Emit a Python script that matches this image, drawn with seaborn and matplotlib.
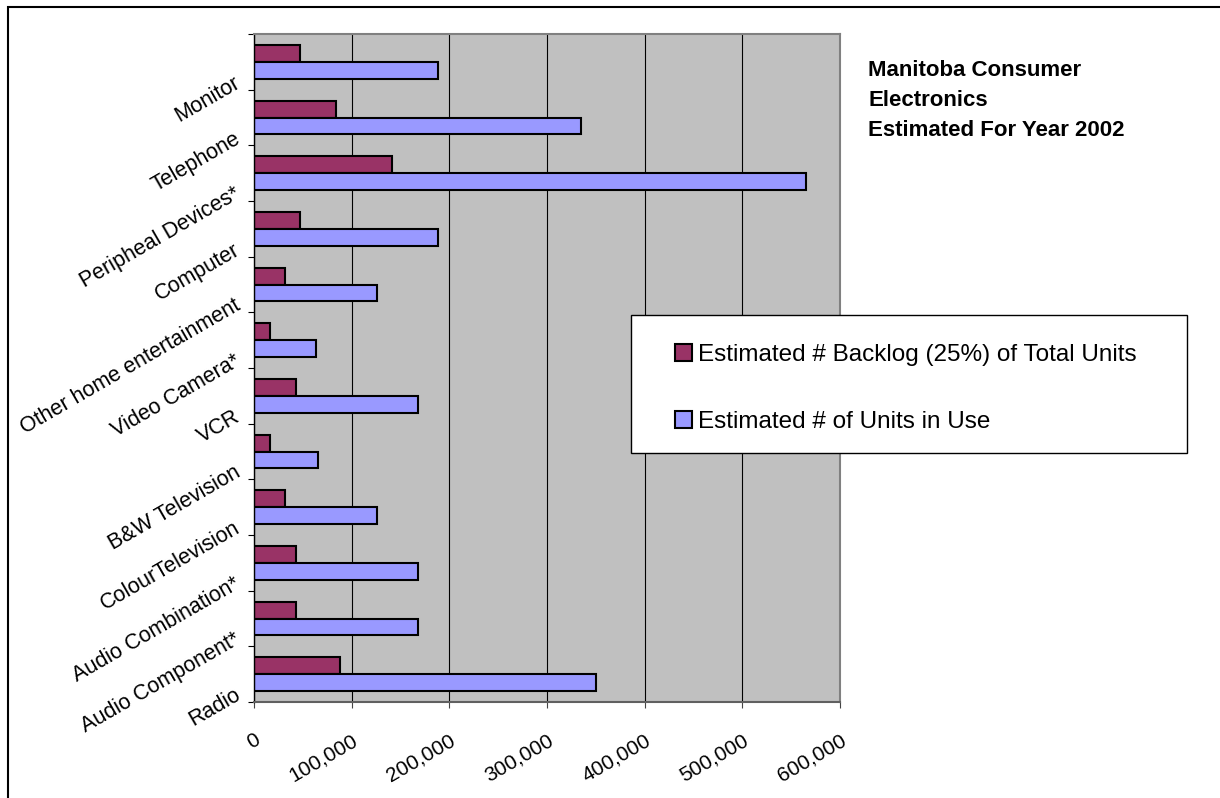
import numpy as np
import pandas as pd
import matplotlib
matplotlib.use("Agg")
import matplotlib.pyplot as plt
from matplotlib.patches import Rectangle, Patch
from matplotlib.ticker import FuncFormatter
import seaborn as sns

# data (top to bottom)
categories = ["Monitor", "Telephone", "Peripheal Devices*", "Computer",
              "Other home entertainment", "Video Camera*", "VCR",
              "B&W Television", "ColourTelevision", "Audio Combination*",
              "Audio Component*", "Radio"]
backlog = [47300, 84100, 141300, 47300, 31500, 16600, 42500,
           16600, 31500, 42500, 42500, 87700]
units = [188800, 335200, 565000, 188800, 125800, 63100, 167800,
         65100, 125800, 167800, 167800, 350200]
series_names = ["Estimated # Backlog (25%) of Total Units",
                "Estimated # of Units in Use"]
xticks = [0, 100000, 200000, 300000, 400000, 500000, 600000]

df = pd.DataFrame({
    "Category": categories * 2,
    "Series": [series_names[0]] * len(categories) + [series_names[1]] * len(categories),
    "Value": backlog + units,
})

plt.rcParams["font.family"] = ["Liberation Sans", "DejaVu Sans"]
colors = ["#993366", "#9999FF"]

fig = plt.figure(figsize=(12.2, 7.98), dpi=100)
ax = fig.add_axes([254 / 1220, 1 - 702 / 798, 586 / 1220, 668 / 798])
ax.set_facecolor("#C0C0C0")

sns.barplot(data=df, y="Category", x="Value", hue="Series", orient="h",
            order=categories, hue_order=series_names, palette=colors,
            width=0.6, saturation=1, edgecolor="black", linewidth=1.5,
            legend=False, ax=ax)

ax.set_xlim(0, 600000)
ax.set_ylim(len(categories) - 0.5, -0.5)
ax.set_xlabel("")
ax.set_ylabel("")

# vertical gridlines
ax.set_xticks(xticks)
ax.xaxis.set_major_formatter(FuncFormatter(lambda v, p: f"{int(v):,}"))
ax.grid(axis="x", color="black", linewidth=0.8)
ax.grid(axis="y", visible=False)
ax.set_axisbelow(True)

# x tick labels rotated
ax.tick_params(axis="x", direction="out", length=4.5, width=0.8, pad=16,
               labelsize=15, color="#444444")
plt.setp(ax.get_xticklabels(), rotation=30, ha="right", va="top",
         rotation_mode="anchor")

# category labels sit a bit below each group, ticks between groups
ax.set_yticks(np.arange(len(categories)) + 0.35, labels=categories)
ax.set_yticks(np.arange(len(categories) + 1) - 0.5, minor=True)
ax.tick_params(axis="y", which="major", length=0, pad=11, labelsize=15.5)
ax.tick_params(axis="y", which="minor", direction="out", length=4.5,
               width=0.8, color="black")
plt.setp(ax.get_yticklabels(), rotation=30, ha="right", va="center",
         rotation_mode="anchor")

for side in ["top", "right"]:
    ax.spines[side].set_color("#808080")
    ax.spines[side].set_linewidth(1.5)
ax.spines["left"].set_color("black")
ax.spines["left"].set_linewidth(1.0)
ax.spines["bottom"].set_color("#606060")
ax.spines["bottom"].set_linewidth(1.5)

# title block
fig.text(868 / 1220, 1 - 60 / 798,
         "Manitoba Consumer\nElectronics\nEstimated For Year 2002",
         fontsize=16, fontweight="bold", ha="left", va="top",
         linespacing=1.57)

# legend box
fig.patches.append(Rectangle((631 / 1220, 1 - 453 / 798), 556 / 1220, 138 / 798,
                             transform=fig.transFigure, facecolor="white",
                             edgecolor="black", linewidth=1.0, zorder=3))
handles = [Patch(facecolor=c, edgecolor="black", linewidth=1.5) for c in colors]
fig.legend(handles, series_names, loc="upper left",
           bbox_to_anchor=(663 / 1220, 1 - 332 / 798), frameon=False,
           fontsize=17.5, borderpad=0, handlelength=0.7, handleheight=0.7,
           handletextpad=0.25, labelspacing=1.85)

# outer chart border
fig.patches.append(Rectangle((8 / 1220, -0.1), 1.2, 1.1 - 7 / 798,
                             transform=fig.transFigure, fill=False,
                             edgecolor="black", linewidth=1.5, clip_on=False))

fig.savefig("out.png", dpi=100)
